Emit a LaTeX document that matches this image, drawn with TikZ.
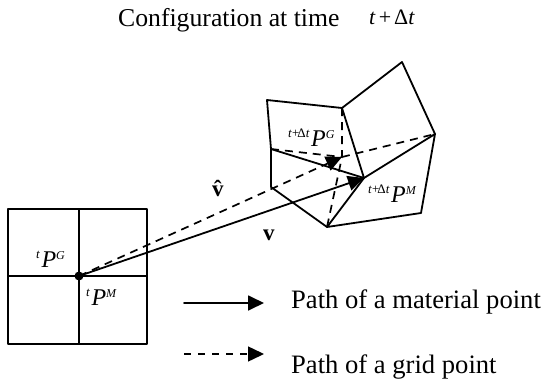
\documentclass[tikz,border=0pt]{standalone}
\usepackage{fontspec}
\setmainfont{Liberation Serif}
\usetikzlibrary{arrows.meta}
\tikzset{
  edge/.style={line width=1.8pt,line cap=round,line join=round},
  dashline/.style={line width=1.7pt,dash pattern=on 8pt off 6pt},
  legdash/.style={line width=1.5pt,dash pattern=on 7pt off 7pt},
  bigtip/.style={-{Triangle[length=16pt,width=15pt]}},
  dotnode/.style={circle,fill=black,inner sep=0pt,minimum size=9pt},
  txt/.style={font=\fontsize{26.6}{30}\selectfont,inner sep=0pt,anchor=base west},
  lab/.style={inner sep=0pt,anchor=base west},
  pnt/.style={inner sep=0pt,minimum size=0pt}
}
\newcommand{\PL}[2]{\raisebox{9pt}{\fontsize{13}{14}\selectfont #1}\hspace{1.5pt}{\fontsize{24}{26}\selectfont\itshape P}\raisebox{8pt}{\fontsize{12}{13}\selectfont\itshape #2}}
\newcommand{\TD}{\textit{t}+$\!$\char"0394\textit{t}}
\begin{document}
\begin{tikzpicture}[x=1pt,y=-1pt]
\useasboundingbox (0,0) rectangle (544,383);
% grid
\draw[edge] (8,209) rectangle (147,344);
\node[pnt] (o) at (79,276) {};
\coordinate (gl) at (8,276); \coordinate (gr) at (147,276);
\coordinate (gt) at (79,209); \coordinate (gb) at (79,344);
\draw[edge] (gl) -- (gr); \draw[edge] (gt) -- (gb);
% deformed mesh
\coordinate (a) at (267,100); \coordinate (b) at (342,108);
\coordinate (c) at (402,62); \coordinate (d) at (435,134);
\coordinate (e) at (364,178); \coordinate (f) at (271,149);
\coordinate (g) at (271,187); \coordinate (h) at (327,227);
\coordinate (i) at (421,213); \coordinate (m) at (342,157);
\draw[edge] (f) -- (a) -- (b) -- (c) -- (d) -- (e) -- (h) -- (i) -- (d);
\draw[edge] (b) -- (e) -- (f) -- (g) -- (h);
% dashed grid lines
\draw[dashline] (f) -- (m) (b) -- (m) -- (h) (m) -- (d);
\draw[dashline,bigtip] (o) -- (m);
\draw[edge,bigtip] (o) -- (e);
\node[dotnode] (od) at (79,276) {};
% labels
\node[txt,font=\fontsize{25.7}{30}\selectfont] (title) at (118,26) {Configuration at time};
\node[lab,font=\fontsize{22}{24}\selectfont] (tt) at (369,24) {\textit{t}\hspace{3pt}+\hspace{3pt}\char"0394\textit{t}};
\node[lab] (pg1) at (288,146) {\PL{\TD}{G}};
\node[lab] (pm1) at (368,202) {\PL{\TD}{M}};
\node[lab] (pg0) at (36,267) {\PL{\textit{t}}{G}};
\node[lab] (pm0) at (86,305) {\PL{\textit{t}}{M}};
\node[lab,font=\fontsize{23}{25}\selectfont\bfseries] (vh) at (212,196) {\^{v}};
\node[lab,font=\fontsize{23}{25}\selectfont\bfseries] (v) at (263,240) {v};
% legend
\coordinate (l1a) at (184,303); \coordinate (l1b) at (264,303);
\coordinate (l2a) at (184,354); \coordinate (l2b) at (264,354);
\draw[edge,bigtip] (l1a) -- (l1b);
\draw[legdash,bigtip] (l2a) -- (l2b);
\node[txt] (t1) at (291,308) {Path of a material point};
\node[txt] (t2) at (291,373) {Path of a grid point};
\end{tikzpicture}
\end{document}
